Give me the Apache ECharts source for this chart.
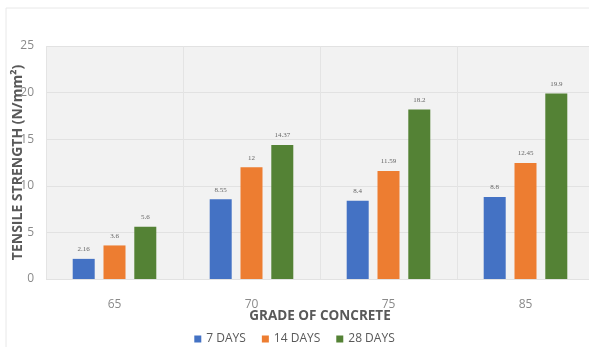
<!DOCTYPE html>
<html><head><meta charset="utf-8">
<script src="https://cdn.jsdelivr.net/npm/echarts@6/dist/echarts.min.js"></script>
<style>html,body{margin:0;padding:0;background:#fff}#c{width:589px;height:347px}</style>
</head><body><div id="c"></div>
<script>
const categories = ['65', '70', '75', '85'];
const seriesNames = ['7 DAYS', '14 DAYS', '28 DAYS'];
const days7 = [2.16, 8.55, 8.4, 8.8];
const days14 = [3.6, 12, 11.59, 12.45];
const days28 = [5.6, 14.37, 18.2, 19.9];
const yTicks = [0, 5, 10, 15, 20, 25];
const colors = ['#4472C4', '#ED7D31', '#548235'];

const chart = echarts.init(document.getElementById('c'), null, {renderer: 'canvas'});
const labelStyle = {show: true, position: 'top', distance: 6, fontSize: 7, color: '#666', fontFamily: 'Liberation Serif'};
function mk(name, data, i) {
  return {name, type: 'bar', data, barWidth: 22, barGap: '40%', itemStyle: {color: colors[i]}, label: labelStyle};
}
chart.setOption({
  animation: false,
  textStyle: {fontFamily: 'Open Sans'},
  graphic: [{type: 'rect', shape: {x: 6, y: 8, width: 620, height: 400}, style: {fill: 'none', stroke: '#e8e8e8', lineWidth: 1}, z: -10}],
  grid: {left: 46, top: 46, width: 548, height: 233, show: true, backgroundColor: '#f2f2f2', borderWidth: 0,
    containLabel: false, outerBoundsMode: 'none'},
  legend: {bottom: -3, left: 'center', itemWidth: 7, itemHeight: 7, itemGap: 16, icon: 'rect',
    textStyle: {fontSize: 12, color: '#595959', fontFamily: 'Open Sans'}, data: seriesNames},
  xAxis: {type: 'category', data: categories,
    axisLine: {show: false}, axisTick: {show: false},
    axisLabel: {fontSize: 12, color: '#8a8a8a', margin: 20},
    splitLine: {show: true, lineStyle: {color: '#e4e4e4'}},
    name: 'GRADE OF CONCRETE', nameLocation: 'middle', nameGap: 30, nameMoveOverlap: false,
    nameTextStyle: {fontSize: 13.5, fontWeight: 'bold', color: '#595959'}},
  yAxis: {type: 'value', min: yTicks[0], max: yTicks[yTicks.length - 1], interval: 5,
    axisLine: {show: false}, axisTick: {show: false},
    axisLabel: {fontSize: 12, color: '#8a8a8a', margin: 12},
    splitLine: {lineStyle: {color: '#e2e2e2'}},
    name: 'TENSILE STRENGTH (N/mm²)', nameLocation: 'middle', nameGap: 21, nameMoveOverlap: false,
    nameTextStyle: {fontSize: 14, fontWeight: 'bold', color: '#595959'}},
  series: [mk(seriesNames[0], days7, 0), mk(seriesNames[1], days14, 1), mk(seriesNames[2], days28, 2)]
});
</script></body></html>
